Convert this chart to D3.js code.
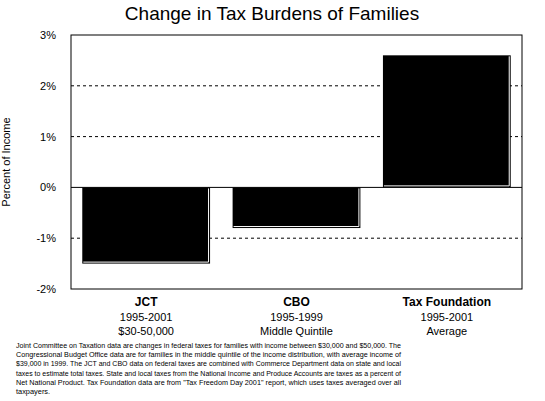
<!DOCTYPE html>
<html>
<head>
<meta charset="utf-8">
<script src="https://cdn.jsdelivr.net/npm/d3@7"></script>
<style>
  body { margin: 0; background: #fff; }
  svg { font-family: "Liberation Sans", Arial, sans-serif; }
</style>
</head>
<body>
<svg id="chart" width="545" height="401"></svg>
<script>
// 数据
const categories = ['JCT', 'CBO', 'Tax Foundation'];
const values = [-1.5, -0.8, 2.6];
const subLine1 = ['1995-2001', '1995-1999', '1995-2001'];
const subLine2 = ['$30-50,000', 'Middle Quintile', 'Average'];
const yTicks = [-2, -1, 0, 1, 2, 3];
const noteLines = [
    'Joint Committee on Taxation data are changes in federal taxes for families with income between $30,000 and $50,000.  The',
    'Congressional Budget Office data are for families in the middle quintile of the income distribution, with average income of',
    '$39,000 in 1999.  The JCT and CBO data on federal taxes are combined with Commerce Department data on state and local',
    'taxes to estimate total taxes.  State and local taxes from the National Income and Produce Accounts are taxes as a percent of',
    'Net National Product.  Tax Foundation data are from "Tax Freedom Day 2001" report, which uses taxes averaged over all',
    'taxpayers.'
];

let svg = d3.select('#chart');
let margin = {left: 71, top: 35, right: 23, bottom: 112};
let width = 545 - margin.left - margin.right,
    height = 401 - margin.top - margin.bottom;

// 标题
svg.append('text')
    .attr('x', 272).attr('y', 20)
    .attr('text-anchor', 'middle')
    .style('font-size', '19px')
    .text('Change in Tax Burdens of Families');

let g = svg.append('g')
    .attr('transform', 'translate(' + margin.left + ',' + margin.top + ')');

let xScale = d3.scaleBand().domain(categories).range([0, width]).paddingInner(0.15).paddingOuter(0.075);
let yScale = d3.scaleLinear().domain([-2, 3]).range([height, 0]);

// 网格线
g.selectAll('.grid')
    .data(yTicks.filter(d => d !== 0 && d !== 3 && d !== -2))
    .enter().append('line')
    .attr('x1', 0).attr('x2', width)
    .attr('y1', d => yScale(d)).attr('y2', d => yScale(d))
    .attr('stroke', '#000').attr('stroke-dasharray', '3,3');

// 柱子
g.selectAll('.bar')
    .data(values)
    .enter().append('rect')
    .attr('x', (d, i) => xScale(categories[i]))
    .attr('y', d => yScale(Math.max(0, d)))
    .attr('width', xScale.bandwidth())
    .attr('height', d => Math.abs(yScale(d) - yScale(0)))
    .attr('fill', '#000');

// 白色 高光 边
g.selectAll('.hl')
    .data(values)
    .enter().append('path')
    .attr('d', (d, i) => {
        let x0 = xScale(categories[i]) + 1, x1 = xScale(categories[i]) + xScale.bandwidth() - 1.5;
        let yTop = yScale(Math.max(0, d)) + 1, yBot = yScale(Math.min(0, d)) - 1.5;
        return 'M' + x0 + ',' + yBot + 'L' + x1 + ',' + yBot + 'L' + x1 + ',' + yTop;
    })
    .attr('fill', 'none').attr('stroke', '#fff').attr('stroke-width', 1);

// 零线 和 边框
g.append('line')
    .attr('x1', 0).attr('x2', width)
    .attr('y1', yScale(0)).attr('y2', yScale(0))
    .attr('stroke', '#000');
g.append('rect')
    .attr('width', width).attr('height', height)
    .attr('fill', 'none').attr('stroke', '#000');

// y 轴 标签
g.selectAll('.ytick')
    .data(yTicks)
    .enter().append('text')
    .attr('x', -15).attr('y', d => yScale(d) + 4)
    .attr('text-anchor', 'end')
    .style('font-size', '11px')
    .text(d => d + '%');
svg.append('text')
    .attr('transform', 'translate(10,' + (margin.top + yScale(0.5)) + ') rotate(-90)')
    .attr('text-anchor', 'middle')
    .style('font-size', '11px')
    .text('Percent of Income');

// x 轴 标签
categories.forEach((c, i) => {
    let cx = xScale(c) + xScale.bandwidth() / 2;
    g.append('text').attr('x', cx).attr('y', height + 17)
        .attr('text-anchor', 'middle').style('font-size', '12px').style('font-weight', 'bold').text(c);
    g.append('text').attr('x', cx).attr('y', height + 32)
        .attr('text-anchor', 'middle').style('font-size', '11px').text(subLine1[i]);
    g.append('text').attr('x', cx).attr('y', height + 46)
        .attr('text-anchor', 'middle').style('font-size', '11px').text(subLine2[i]);
});

// 注释
svg.selectAll('.note')
    .data(noteLines)
    .enter().append('text')
    .attr('x', 16).attr('y', (d, i) => 348 + i * 9.2)
    .style('font-size', '7.4px')
    .attr('textLength', (d, i) => i === 5 ? null : 385)
    .attr('lengthAdjust', 'spacingAndGlyphs')
    .text(d => d);
</script>
</body>
</html>
